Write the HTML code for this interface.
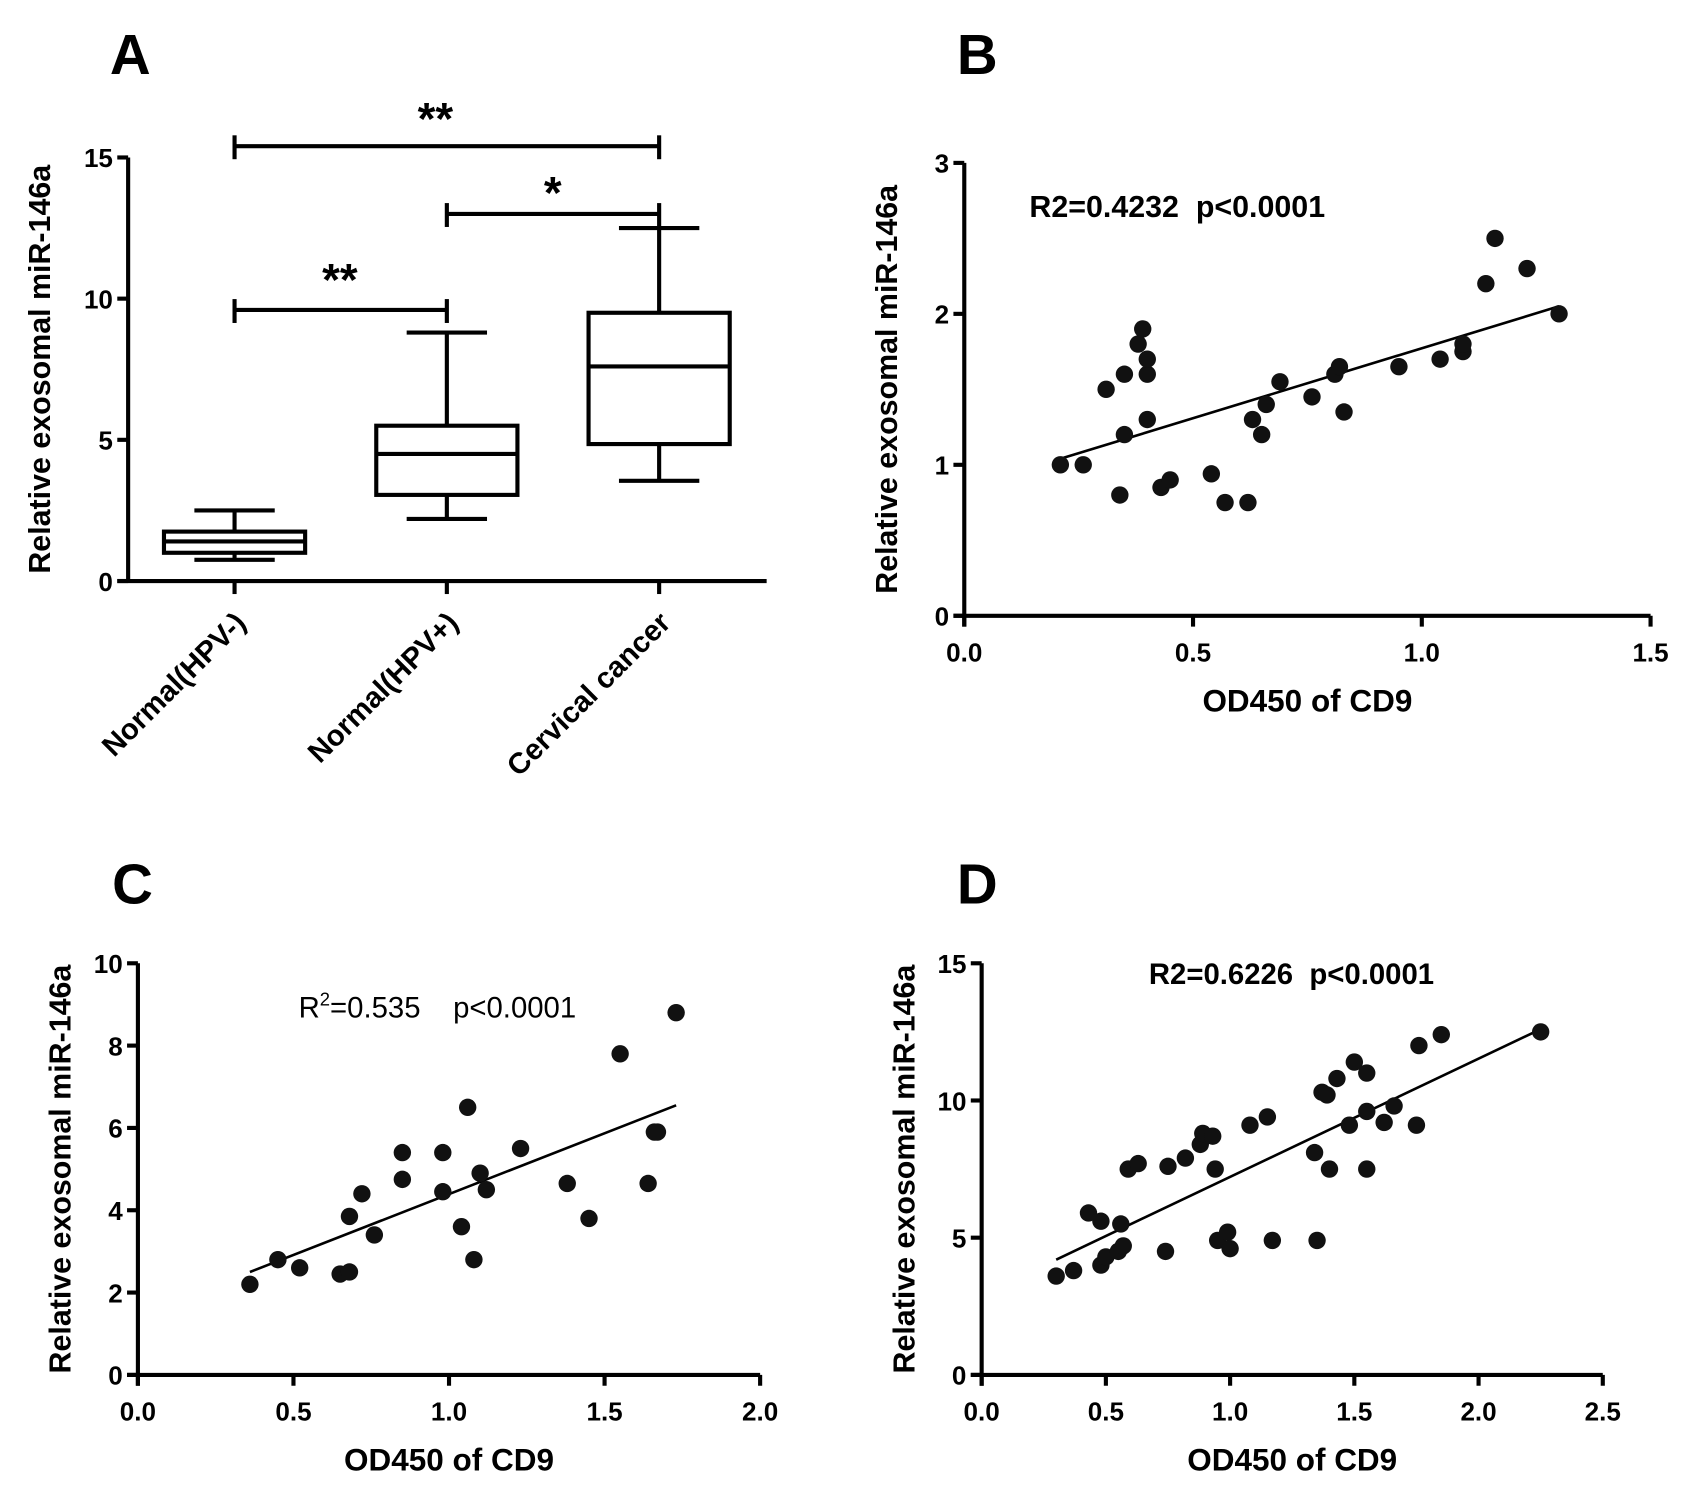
<!DOCTYPE html>
<html><head><meta charset="utf-8"><style>
html,body{margin:0;padding:0;background:#fff}
svg{display:block;font-family:"Liberation Sans",Arial,sans-serif}
svg text{white-space:pre}
</style></head><body>
<svg id="fig" width="1694" height="1490" viewBox="0 0 1560 1372" preserveAspectRatio="none" xmlns="http://www.w3.org/2000/svg"></svg>
<script>
// Panel A data
const aGroups = ["Normal(HPV-)", "Normal(HPV+)", "Cervical cancer"];
const aWhiskLow = [0.75, 2.2, 3.55];
const aQ1 = [1.0, 3.05, 4.85];
const aMedian = [1.4, 4.5, 7.6];
const aQ3 = [1.75, 5.5, 9.5];
const aWhiskHigh = [2.5, 8.8, 12.5];
const aYTicks = [0, 5, 10, 15];
// Panel B data
const bX = [0.21,0.26,0.31,0.34,0.35,0.35,0.38,0.39,0.40,0.40,0.40,0.43,0.45,0.54,0.57,0.62,0.63,0.65,0.66,0.69,0.76,0.81,0.82,0.83,0.95,1.04,1.09,1.09,1.14,1.16,1.23,1.30];
const bY = [1.0,1.0,1.5,0.8,1.6,1.2,1.8,1.9,1.6,1.7,1.3,0.85,0.9,0.94,0.75,0.75,1.3,1.2,1.4,1.55,1.45,1.6,1.65,1.35,1.65,1.7,1.75,1.8,2.2,2.5,2.3,2.0];
const bFitX = [0.21, 1.30];
const bFitY = [1.04, 2.05];
const bXTicks = [0, 0.5, 1.0, 1.5];
const bYTicks = [0, 1, 2, 3];
// Panel C data
const cX = [0.36,0.45,0.52,0.65,0.68,0.68,0.72,0.76,0.85,0.85,0.98,0.98,1.04,1.06,1.08,1.10,1.12,1.23,1.38,1.45,1.55,1.64,1.66,1.67,1.73];
const cY = [2.2,2.8,2.6,2.45,2.5,3.85,4.4,3.4,5.4,4.75,5.4,4.45,3.6,6.5,2.8,4.9,4.5,5.5,4.65,3.8,7.8,4.65,5.9,5.9,8.8];
const cFitX = [0.36, 1.73];
const cFitY = [2.5, 6.55];
const cXTicks = [0, 0.5, 1.0, 1.5, 2.0];
const cYTicks = [0, 2, 4, 6, 8, 10];
// Panel D data
const dX = [0.3,0.37,0.43,0.48,0.48,0.5,0.55,0.56,0.57,0.59,0.63,0.74,0.75,0.82,0.88,0.89,0.93,0.94,0.95,0.99,1.0,1.08,1.15,1.17,1.34,1.35,1.37,1.39,1.4,1.43,1.48,1.5,1.55,1.55,1.55,1.62,1.66,1.75,1.76,1.85,2.25];
const dY = [3.6,3.8,5.9,5.6,4.0,4.3,4.5,5.5,4.7,7.5,7.7,4.5,7.6,7.9,8.4,8.8,8.7,7.5,4.9,5.2,4.6,9.1,9.4,4.9,8.1,4.9,10.3,10.2,7.5,10.8,9.1,11.4,11.0,9.6,7.5,9.2,9.8,9.1,12.0,12.4,12.5];
const dFitX = [0.3, 2.25];
const dFitY = [4.2, 12.6];
const dXTicks = [0, 0.5, 1.0, 1.5, 2.0, 2.5];
const dYTicks = [0, 5, 10, 15];

const svg = document.getElementById('fig');
const NS = 'http://www.w3.org/2000/svg';
const LW = 3.8;
function mk(tag, attrs, parent) {
  const e = document.createElementNS(NS, tag);
  for (const k in attrs) e.setAttribute(k, attrs[k]);
  (parent || svg).appendChild(e);
  return e;
}
function line(x1,y1,x2,y2,w,p){return mk('line',{x1,y1,x2,y2,stroke:'#000','stroke-width':w||LW},p);}
function text(x,y,s,size,anchor,weight,p){const t=mk('text',{x,y,'font-size':size,'text-anchor':anchor||'middle','font-weight':weight||'bold',fill:'#000'},p);t.textContent=s;return t;}
function fmt(v,dec){return v.toFixed(dec);}

function scatterPanel(name, cfg) {
  const g = mk('g', {});
  
  
  const sx = v => cfg.x0 + (v - cfg.xmin) / (cfg.xmax - cfg.xmin) * (cfg.x1 - cfg.x0);
  const sy = v => cfg.y0 - (v - cfg.ymin) / (cfg.ymax - cfg.ymin) * (cfg.y0 - cfg.y1);
  const ya = line(cfg.x0, cfg.y1, cfg.x0, cfg.y0 + 10, LW, g);
  
  
  const xa = line(cfg.x0 - 10, cfg.y0, cfg.x1, cfg.y0, LW, g);
  
  
  cfg.xt.forEach(v => {
    line(sx(v), cfg.y0, sx(v), cfg.y0 + 10, LW, g);
    const t = text(sx(v), cfg.y0 + 42, fmt(v,1), 24, 'middle', 'bold', g);
    
    
  });
  cfg.yt.forEach(v => {
    line(cfg.x0 - 10, sy(v), cfg.x0, sy(v), LW, g);
    const t = text(cfg.x0 - 14, sy(v) + 9, String(v), 24, 'end', 'bold', g);
    
    
  });
  const fit = mk('line', {x1: sx(cfg.fx[0]), y1: sy(cfg.fy[0]), x2: sx(cfg.fx[1]), y2: sy(cfg.fy[1]), stroke: '#000', 'stroke-width': 2.4}, g);
  
  
  cfg.xs.forEach((v, i) => {
    const c = mk('circle', {cx: sx(v), cy: sy(cfg.ys[i]), r: 8, fill: '#111'}, g);
    
    
  });
  const xt = text((cfg.x0 + cfg.x1) / 2, cfg.y0 + 88, 'OD450 of CD9', 29, 'middle', 'bold', g);
  
  
  const yx = cfg.x0 - 62, yy = (cfg.y0 + cfg.y1) / 2;
  const yt = text(yx, yy, 'Relative exosomal miR-146a', 28, 'middle', 'bold', g);
  yt.setAttribute('transform', `rotate(-90 ${yx} ${yy})`);
  
  
  const L = text(cfg.lx, cfg.ly, cfg.letter, 52, 'middle', 'bold', g);
  
  
  return g;
}

// Panel A
(function(){
  const g = mk('g', {});
  
  
  const x0 = 118, x1 = 706, y0 = 535, y1 = 145;
  const sy = v => y0 - v / 15 * (y0 - y1);
  const cx = i => 216 + i * 195.5;
  line(x0, y1, x0, y0, LW, g);
  line(x0 - 10, y0, x1, y0, LW, g);
  aYTicks.forEach(v => {
    line(x0 - 10, sy(v), x0, sy(v), LW, g);
    const t = text(x0 - 14, sy(v) + 9, String(v), 24, 'end', 'bold', g);
    
    
  });
  aGroups.forEach((name, i) => {
    const c = cx(i);
    line(c, y0, c, y0 + 12, LW, g);
    const bx = mk('g', {}, g);
    
    
    line(c, sy(aWhiskLow[i]), c, sy(aQ1[i]), LW, bx);
    line(c, sy(aQ3[i]), c, sy(aWhiskHigh[i]), LW, bx);
    line(c - 37, sy(aWhiskLow[i]), c + 37, sy(aWhiskLow[i]), LW, bx);
    line(c - 37, sy(aWhiskHigh[i]), c + 37, sy(aWhiskHigh[i]), LW, bx);
    mk('rect', {x: c - 65, y: sy(aQ3[i]), width: 130, height: sy(aQ1[i]) - sy(aQ3[i]), fill: 'none', stroke: '#000', 'stroke-width': LW}, bx);
    line(c - 65, sy(aMedian[i]), c + 65, sy(aMedian[i]), LW, bx);
    const tx = c + 12, ty = y0 + 40;
    const t = text(tx, ty, name, 27, 'end', 'bold', g);
    t.setAttribute('transform', `rotate(-45 ${tx} ${ty})`);
    
    
  });
  function sig(i, j, yv, lbl, lx, ly) {
    const y = sy(yv);
    const s = mk('g', {}, g);
    
    
    line(cx(i), y, cx(j), y, LW, s);
    line(cx(i), y - 10, cx(i), y + 12, LW, s);
    line(cx(j), y - 10, cx(j), y + 12, LW, s);
    text(lx, ly, lbl, 42, 'middle', 'bold', s);
  }
  sig(0, 1, 9.6, '**', 313, 272);
  sig(1, 2, 13.0, '*', 509, 192);
  sig(0, 2, 15.4, '**', 401, 124);
  const yt = text(46, 340, 'Relative exosomal miR-146a', 28, 'middle', 'bold', g);
  yt.setAttribute('transform', 'rotate(-90 46 340)');
  
  
  const L = text(120, 68, 'A', 52, 'middle', 'bold', g);
  
  
})();

const gb = scatterPanel('panel-b-scatter', {x0:888,x1:1520,y0:567,y1:150,xmin:0,xmax:1.5,ymin:0,ymax:3,xt:bXTicks,yt:bYTicks,xs:bX,ys:bY,fx:bFitX,fy:bFitY,letter:'B',lx:900,ly:68});
const tb = text(948, 200, 'R2=0.4232  p<0.0001', 28, 'start', 'bold', gb);



const gc = scatterPanel('panel-c-scatter', {x0:127,x1:700,y0:1266,y1:887,xmin:0,xmax:2,ymin:0,ymax:10,xt:cXTicks,yt:cYTicks,xs:cX,ys:cY,fx:cFitX,fy:cFitY,letter:'C',lx:122,ly:832});
const tc = mk('text', {x: 275, y: 937, 'font-size': 27, fill: '#000'}, gc);
tc.innerHTML = 'R<tspan dy="-11" font-size="17">2</tspan><tspan dy="11">=0.535    p&lt;0.0001</tspan>';



const gd = scatterPanel('panel-d-scatter', {x0:904,x1:1476,y0:1266,y1:887,xmin:0,xmax:2.5,ymin:0,ymax:15,xt:dXTicks,yt:dYTicks,xs:dX,ys:dY,fx:dFitX,fy:dFitY,letter:'D',lx:900,ly:832});
const td = text(1058, 906, 'R2=0.6226  p<0.0001', 27, 'start', 'bold', gd);


</script>
</body></html>
